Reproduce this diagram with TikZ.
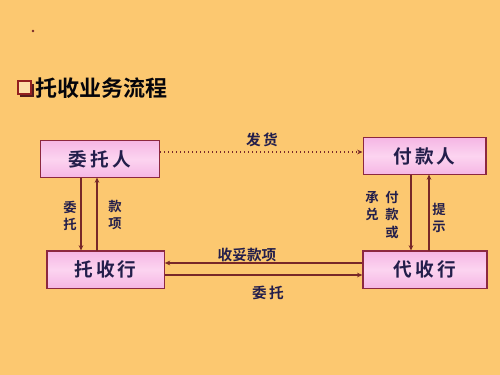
\documentclass[tikz,border=0pt]{standalone}
\usepackage{fontspec}
\newfontfamily\cjk{Noto Sans CJK SC Bold}
\usetikzlibrary{arrows.meta}
\definecolor{bg}{RGB}{252,200,112}
\definecolor{boxfill}{RGB}{245,182,228}
\definecolor{boxlight}{RGB}{252,212,240}
\definecolor{boxline}{RGB}{140,40,64}
\definecolor{arr}{RGB}{120,40,40}
\definecolor{txt}{RGB}{35,30,75}
\tikzset{
  px/.style={x=0.75pt,y=-0.75pt},
  flowbox/.style={draw=boxline,line width=1pt,top color=boxfill,bottom color=boxfill,middle color=boxlight,
    minimum width=89pt,minimum height=28pt,inner sep=0pt,font=\cjk\fontsize{14}{14}\selectfont,text=txt},
  lbl/.style={font=\cjk\fontsize{11}{11}\selectfont,text=txt,inner sep=0pt},
  vlbl/.style={font=\cjk\fontsize{10}{13}\selectfont,text=txt,inner sep=0pt,align=center},
  conn/.style={draw=arr,line width=1pt,-{Stealth[length=4pt,width=3.5pt]}},
}
\begin{document}
\begin{tikzpicture}[px]
\fill[bg] (0,0) rectangle (500,375);
\useasboundingbox (0,0) rectangle (500,375);
% dot
\fill[arr] (33,31) circle (1.3);
% title bullet
\fill[arr!70!black] (20,84) rectangle (34,97);
\fill[bg!60!white] (18,81) rectangle (31,94);
\draw[draw=arr!80!red,line width=1.2pt] (18,81) rectangle (31,94);
\node[anchor=west,inner sep=0pt,font=\cjk\fontsize{16.5}{16.5}\selectfont,text=black!85!txt] (title) at (35,88) {托收业务流程};
% boxes
\node[flowbox] (wtr) at (100,159) {委\,托\,人};
\node[flowbox,minimum width=88pt] (tsh) at (105.5,269.5) {托\,收\,行};
\node[flowbox,minimum width=92pt] (fkr) at (424.5,156) {付\,款\,人};
\node[flowbox,minimum width=93pt] (dsh) at (425,269.5) {代\,收\,行};
% left vertical arrows
\coordinate (l1t) at (81,177.5);
\coordinate (l1b) at (81,250.5);
\coordinate (l2t) at (97,177.5);
\coordinate (l2b) at (97,250.5);
\draw[conn] (l1t) -- (l1b);
\draw[conn] (l2b) -- (l2t);
\node[vlbl] (lw) at (70,216) {委\\托};
\node[vlbl] (lk) at (115,215) {款\\项};
% right vertical arrows
\coordinate (r1t) at (411,174.5);
\coordinate (r1b) at (411,250.5);
\coordinate (r2t) at (429,174.5);
\coordinate (r2b) at (429,250.5);
\draw[conn] (r1t) -- (r1b);
\draw[conn] (r2b) -- (r2t);
\node[vlbl,anchor=north] (rc) at (372,191) {承\\兑};
\node[vlbl,anchor=north] (rf) at (392,191) {付\\款\\或};
\node[vlbl] (rt) at (439,218) {提\\示};
% horizontal
\draw[conn,dotted,line width=0.9pt] (wtr.east |- 0,152) -- (fkr.west |- 0,152);
\node[lbl] (fh) at (262,140) {发\,货};
\draw[conn] (dsh.west |- 0,263) -- (tsh.east |- 0,263);
\node[lbl] (sk) at (247,255) {收妥款项};
\draw[conn] (tsh.east |- 0,275) -- (dsh.west |- 0,275);
\node[lbl] (wt) at (268,293) {委\,托};
\end{tikzpicture}
\end{document}
